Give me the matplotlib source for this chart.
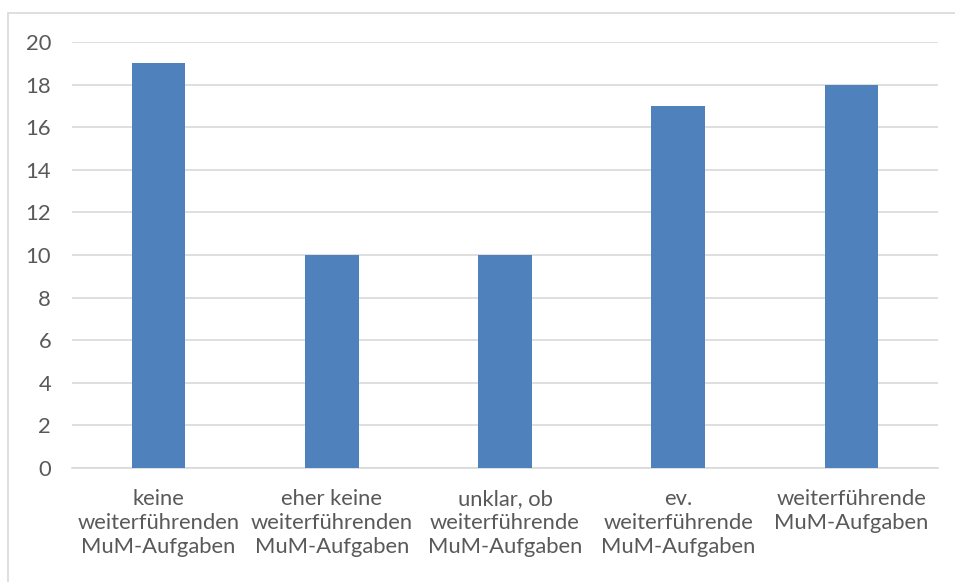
import matplotlib.pyplot as plt
from matplotlib.patches import Rectangle

categories = [
    "keine\nweiterführenden\nMuM-Aufgaben",
    "eher keine\nweiterführenden\nMuM-Aufgaben",
    "unklar, ob\nweiterführende\nMuM-Aufgaben",
    "ev.\nweiterführende\nMuM-Aufgaben",
    "weiterführende\nMuM-Aufgaben",
]
values = [19, 10, 10, 17, 18]
yticks = [0, 2, 4, 6, 8, 10, 12, 14, 16, 18, 20]

plt.rcParams['font.family'] = ['Lato', 'DejaVu Sans']
txt = '#595959'
grid = '#d9d9d9'

fig = plt.figure(figsize=(9.55, 5.82), dpi=100)
W, H = 955, 582

# chart border
fig.patches.append(Rectangle((8 / W, -0.1), 1.2, 1 - 13 / H + 0.1,
                             transform=fig.transFigure, fill=False,
                             edgecolor=grid, linewidth=1.2))

ax = fig.add_axes([72 / W, 1 - 468 / H, (938 - 72) / W, (468 - 42) / H])
x = range(len(categories))
ax.bar(x, values, width=0.31, color='#4f81bd', zorder=3)
ax.set_xlim(-0.5, len(categories) - 0.5)
ax.set_ylim(0, 20)
ax.set_yticks(yticks)
ax.yaxis.grid(True, color=grid, linewidth=1.2, zorder=0)
ax.set_xticks(list(x))
ax.set_xticklabels(categories, fontsize=15.8, color=txt, linespacing=1.24)
ax.tick_params(axis='y', labelsize=15.8, labelcolor=txt, length=0, pad=15)
ax.tick_params(axis='x', length=0, pad=15)
for s in ['top', 'right', 'left']:
    ax.spines[s].set_visible(False)
ax.spines['bottom'].set_color(grid)
ax.spines['bottom'].set_linewidth(1.2)

fig.savefig('out.png', dpi=100)
